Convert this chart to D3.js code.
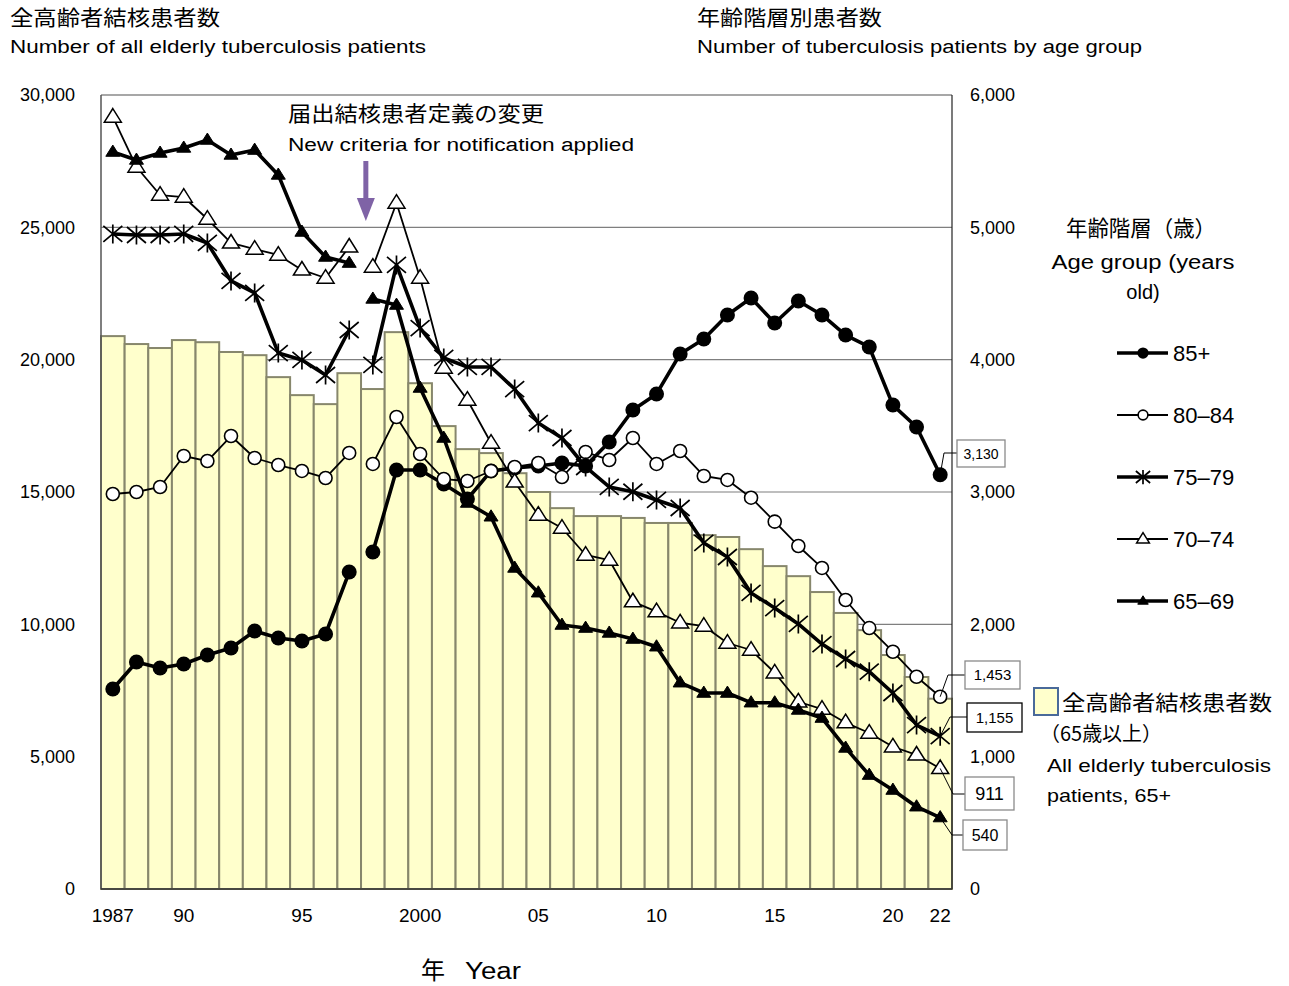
<!DOCTYPE html>
<html>
<head>
<meta charset="utf-8">
<script src="https://cdn.jsdelivr.net/npm/d3@7"></script>
<style>
  body { margin: 0; background: #fff; }
  text { font-family: "Noto Sans CJK JP", "Noto Sans", sans-serif; fill: #000; }
</style>
</head>
<body>
<div id="chart"></div>
<script>
// ---- data ----
const years = [1987,1988,1989,1990,1991,1992,1993,1994,1995,1996,1997,1998,1999,2000,2001,2002,2003,2004,2005,
  2006,2007,2008,2009,2010,2011,2012,2013,2014,2015,2016,2017,2018,2019,2020,2021,2022];
// new notification criteria from 1998: lines are broken there
const criteriaChangeYear = 1998;

// bars, left axis: all elderly TB patients (65+)
const totalElderly = [20890,20590,20440,20740,20660,20290,20170,19340,18660,18320,19490,18890,21040,19110,17490,
  16620,16470,15710,15000,14390,14090,14090,14020,13830,13830,13370,13300,12840,12200,11820,11220,10430,9780,8840,8010,7190];

// lines, right axis: patients by age group
const age85 = [1511,1715,1670,1700,1768,1821,1950,1897,1874,1927,2395,2547,3166,3166,3060,2947,3159,3181,3196,
  3219,3196,3378,3620,3741,4043,4156,4338,4466,4277,4443,4338,4186,4096,3657,3491,3130];
const age80 = [2985,3000,3038,3272,3234,3423,3257,3204,3159,3106,3295,3212,3567,3287,3098,3083,3159,3189,3219,
  3113,3302,3242,3408,3212,3310,3121,3091,2957,2776,2592,2426,2184,1972,1793,1604,1453];
const age75 = [4950,4942,4942,4950,4882,4595,4504,4050,3998,3884,4224,3960,4716,4239,4013,3945,3945,3778,3521,
  3408,3189,3038,3002,2940,2879,2615,2509,2237,2123,2003,1851,1738,1642,1481,1239,1155];
const age70 = [5834,5456,5244,5229,5063,4882,4836,4791,4678,4617,4852,4700,5184,4617,3937,3695,3370,3076,2826,
  2728,2524,2486,2171,2096,2012,1987,1859,1806,1634,1415,1360,1257,1179,1075,1013,911];
const age65 = [5569,5509,5562,5600,5660,5547,5584,5396,4965,4776,4730,4459,4413,3786,3408,2917,2813,2426,2239,
  1995,1972,1935,1889,1831,1559,1481,1481,1408,1408,1353,1292,1066,861,748,622,540];

const groupNames = ["85+", "80–84", "75–79", "70–74", "65–69"];
const leftTicks = [0,5000,10000,15000,20000,25000,30000];
const rightTicks = [0,1000,2000,3000,4000,5000,6000];
const yearTicks = [1987,1990,1995,2000,2005,2010,2015,2020,2022];
const yearTickLabels = ["1987","90","95","2000","05","10","15","20","22"];

// ---- layout ----
const W = 1289, H = 986;
const plot = {left: 101, right: 952, top: 95, bottom: 889};

const svg = d3.select("#chart").append("svg")
    .attr("width", W)
    .attr("height", H);

const x = d3.scaleBand().domain(years).range([plot.left, plot.right]).padding(0);
const yL = d3.scaleLinear().domain([0, 30000]).range([plot.bottom, plot.top]);
const yR = d3.scaleLinear().domain([0, 6000]).range([plot.bottom, plot.top]);
const cx = d => x(d) + x.bandwidth() / 2;

function txt(str, px, py, size, opt) {
  opt = opt || {};
  const t = svg.append("text")
      .attr("x", px).attr("y", py)
      .style("font-size", size + "px")
      .attr("text-anchor", opt.anchor || "start")
      .text(str);
  if (opt.family) t.style("font-family", opt.family);
  if (opt.len) t.attr("textLength", opt.len).attr("lengthAdjust", "spacingAndGlyphs");
  return t;
}

// gridlines (behind bars)
svg.append("g").selectAll("line")
    .data(leftTicks.filter(v => v > 0 && v < 30000))
    .join("line")
    .attr("x1", plot.left).attr("x2", plot.right)
    .attr("y1", d => yL(d)).attr("y2", d => yL(d))
    .attr("stroke", "#7f7f7f").attr("stroke-width", 1.2);

// bars
svg.append("g").selectAll("rect")
    .data(years)
    .join("rect")
    .attr("x", d => x(d))
    .attr("width", x.bandwidth())
    .attr("y", (d, i) => yL(totalElderly[i]))
    .attr("height", (d, i) => plot.bottom - yL(totalElderly[i]))
    .attr("fill", "#ffffcc")
    .attr("stroke", "#87876c")
    .attr("stroke-width", 2);

// frame
svg.append("line").attr("x1", plot.left).attr("x2", plot.right).attr("y1", plot.top).attr("y2", plot.top)
    .attr("stroke", "#8a8a8a").attr("stroke-width", 1.5);
svg.append("line").attr("x1", plot.left).attr("x2", plot.left).attr("y1", plot.top).attr("y2", plot.bottom)
    .attr("stroke", "#555").attr("stroke-width", 1.5);
svg.append("line").attr("x1", plot.right).attr("x2", plot.right).attr("y1", plot.top).attr("y2", plot.bottom)
    .attr("stroke", "#222").attr("stroke-width", 1.2);
svg.append("line").attr("x1", plot.left).attr("x2", plot.right).attr("y1", plot.bottom).attr("y2", plot.bottom)
    .attr("stroke", "#333").attr("stroke-width", 1.5);

// axes
const axL = svg.append("g").attr("transform", `translate(${plot.left},0)`)
    .call(d3.axisLeft(yL).tickValues(leftTicks).tickFormat(d3.format(",")).tickSize(0).tickPadding(26));
const axR = svg.append("g").attr("transform", `translate(${plot.right},0)`)
    .call(d3.axisRight(yR).tickValues(rightTicks).tickFormat(d3.format(",")).tickSize(0).tickPadding(18));
[axL, axR].forEach(a => {
  a.select(".domain").remove();
  a.attr("font-size", null).attr("font-family", null);
  a.selectAll("text").style("font-size", "18px").style("font-family", "'Liberation Sans', Arial, sans-serif");
});

const xAxis = svg.append("g").attr("transform", `translate(0,${plot.bottom})`);
xAxis.selectAll("text")
    .data(yearTicks)
    .join("text")
    .attr("x", d => cx(d))
    .attr("y", 33)
    .attr("text-anchor", "middle")
    .style("font-size", "19px")
    .style("font-family", "'Liberation Sans Narrow', 'Liberation Sans', sans-serif")
    .text((d, i) => yearTickLabels[i]);

// ---- age-group lines ----
const series = [
  {name: groupNames[0], values: age85, width: 3.6, marker: "dot"},
  {name: groupNames[1], values: age80, width: 1.8, marker: "circle"},
  {name: groupNames[2], values: age75, width: 3.6, marker: "star"},
  {name: groupNames[3], values: age70, width: 1.8, marker: "triangle"},
  {name: groupNames[4], values: age65, width: 3.6, marker: "tri-fill"}
];

function drawMarker(g, type, px, py, s) {
  s = s || 1;
  if (type === "dot") {
    g.append("circle").attr("cx", px).attr("cy", py).attr("r", 7.5 * s).attr("fill", "#000");
  } else if (type === "circle") {
    g.append("circle").attr("cx", px).attr("cy", py).attr("r", 6.5 * s)
        .attr("fill", "#fff").attr("stroke", "#000").attr("stroke-width", 1.6);
  } else if (type === "star") {
    const hw = 9.5 * s, hh = 9.5 * s, dh = 8 * s;
    g.append("path")
        .attr("d", `M${px},${py - hh}L${px},${py + hh}M${px - hw},${py - dh}L${px + hw},${py + dh}M${px - hw},${py + dh}L${px + hw},${py - dh}`)
        .attr("stroke", "#000").attr("stroke-width", 1.7).attr("fill", "none");
  } else if (type === "triangle" || type === "tri-fill") {
    const a = (type === "triangle" ? 8.5 : 7) * s;
    const h = a * 1.6;
    g.append("path")
        .attr("d", `M${px},${py - h * 0.62}L${px + a},${py + h * 0.38}L${px - a},${py + h * 0.38}Z`)
        .attr("fill", type === "triangle" ? "#fff" : "#000")
        .attr("stroke", "#000").attr("stroke-width", type === "triangle" ? 1.5 : 1);
  }
}

const line = d3.line().x(d => cx(d.year)).y(d => yR(d.v));
const linesG = svg.append("g");
series.forEach(s => {
  const pts = years.map((yr, i) => ({year: yr, v: s.values[i]}));
  const segs = [pts.filter(p => p.year < criteriaChangeYear), pts.filter(p => p.year >= criteriaChangeYear)];
  const g = linesG.append("g");
  segs.forEach(seg => {
    g.append("path").attr("d", line(seg))
        .attr("fill", "none").attr("stroke", "#000")
        .attr("stroke-width", s.width).attr("stroke-linejoin", "round");
  });
  pts.forEach(p => drawMarker(g, s.marker, cx(p.year), yR(p.v)));
});

// ---- end-value labels with leader lines ----
const lastIdx = years.length - 1;
const lastX = cx(years[lastIdx]);
const valueBoxes = [
  {v: age85[lastIdx], bx: 957, by: 440, bw: 48, bh: 27, fs: 14, border: "#8a8a8a", knee: [944, 453]},
  {v: age80[lastIdx], bx: 965, by: 661, bw: 55, bh: 28, fs: 15, border: "#8a8a8a", knee: [948, 675]},
  {v: age75[lastIdx], bx: 967, by: 703, bw: 55, bh: 29, fs: 15, border: "#000", knee: [950, 717]},
  {v: age70[lastIdx], bx: 965, by: 777, bw: 49, bh: 33, fs: 18, border: "#8a8a8a", knee: [953, 794]},
  {v: age65[lastIdx], bx: 963, by: 820, bw: 44, bh: 30, fs: 16, border: "#8a8a8a", knee: [952, 835]}
];
valueBoxes.forEach(b => {
  svg.append("path")
      .attr("d", `M${lastX},${yR(b.v)}L${b.knee[0]},${b.knee[1]}L${b.bx},${b.knee[1]}`)
      .attr("fill", "none").attr("stroke", "#000").attr("stroke-width", 1);
  svg.append("rect").attr("x", b.bx).attr("y", b.by).attr("width", b.bw).attr("height", b.bh)
      .attr("fill", "#fff").attr("stroke", b.border).attr("stroke-width", 1.3);
  txt(d3.format(",")(b.v), b.bx + b.bw / 2, b.by + b.bh / 2 + b.fs * 0.36, b.fs,
      {anchor: "middle", family: "'Liberation Sans', Arial, sans-serif"});
});

// ---- criteria change note + arrow ----
txt("届出結核患者定義の変更", 288, 121, 21, {len: 256});
txt("New criteria for notification applied", 288, 151, 18, {len: 346, family: "'Liberation Sans', Arial, sans-serif"});
const arrowX = cx(criteriaChangeYear) - 7;
svg.append("line").attr("x1", arrowX).attr("x2", arrowX).attr("y1", 161).attr("y2", 202)
    .attr("stroke", "#7f63a6").attr("stroke-width", 5);
svg.append("path").attr("d", `M${arrowX - 9},${198}L${arrowX + 9},${198}L${arrowX},${221}Z`)
    .attr("fill", "#7f63a6");

// ---- headers ----
txt("全高齢者結核患者数", 10, 25, 21, {len: 210});
txt("Number of all elderly tuberculosis patients", 10, 53, 18, {len: 416, family: "'Liberation Sans', Arial, sans-serif"});
txt("年齢階層別患者数", 697, 25, 21, {len: 185});
txt("Number of tuberculosis patients by age group", 697, 53, 18, {len: 445, family: "'Liberation Sans', Arial, sans-serif"});
txt("年", 433, 979, 24, {anchor: "middle"});
txt("Year", 465, 979, 23, {len: 56, family: "'Liberation Sans', Arial, sans-serif"});

// ---- age group legend ----
txt("年齢階層（歳）", 1141, 236, 22, {anchor: "middle", len: 150});
txt("Age group (years", 1143, 269, 20, {anchor: "middle", len: 183, family: "'Liberation Sans', Arial, sans-serif"});
txt("old)", 1143, 299, 20, {anchor: "middle", family: "'Liberation Sans', Arial, sans-serif"});
const legY = [353, 415, 477, 539, 601];
series.forEach((s, i) => {
  const g = svg.append("g");
  g.append("line").attr("x1", 1117).attr("x2", 1168).attr("y1", legY[i]).attr("y2", legY[i])
      .attr("stroke", "#000").attr("stroke-width", s.width);
  drawMarker(g, s.marker, 1143, legY[i], 0.75);
  txt(s.name, 1173, legY[i] + 8, 22, {family: "'Liberation Sans', Arial, sans-serif"});
});

// ---- bar legend ----
svg.append("rect").attr("x", 1034).attr("y", 688).attr("width", 24).attr("height", 27)
    .attr("fill", "#ffffcc").attr("stroke", "#4a6a9a").attr("stroke-width", 2);
txt("全高齢者結核患者数", 1062, 710, 21, {len: 210});
txt("（65歳以上）", 1040, 741, 20, {len: 122});
txt("All elderly tuberculosis", 1047, 772, 19, {len: 224, family: "'Liberation Sans', Arial, sans-serif"});
txt("patients, 65+", 1047, 802, 19, {len: 124, family: "'Liberation Sans', Arial, sans-serif"});
</script>
</body>
</html>
